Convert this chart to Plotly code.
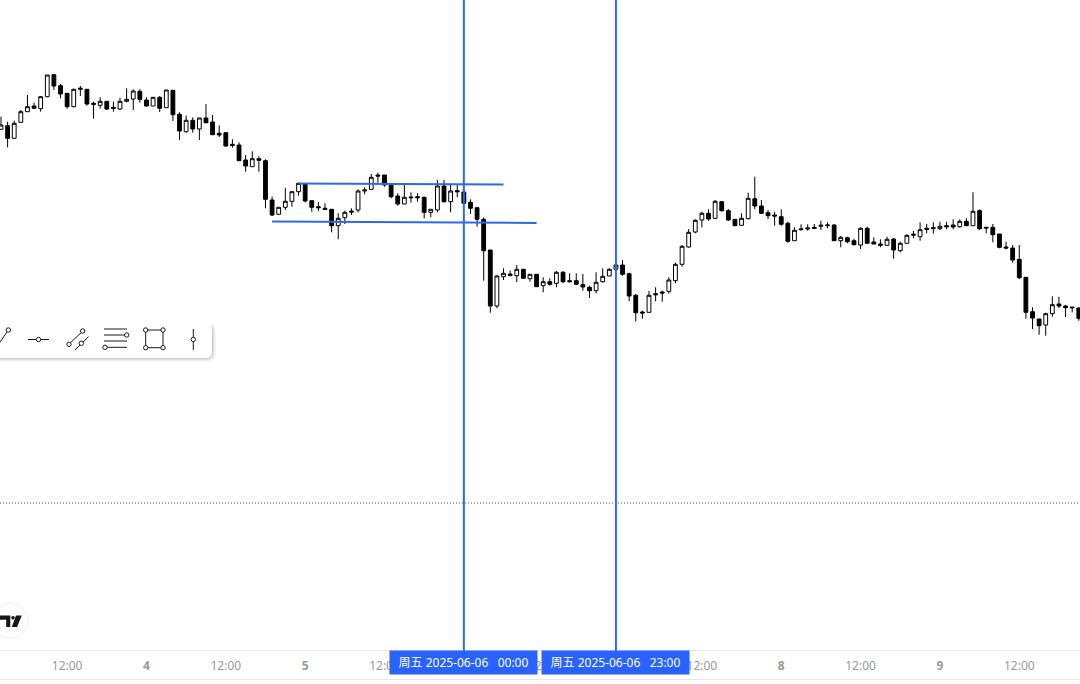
import pandas as pd
import plotly.graph_objects as go

# Price scale is arbitrary (no price axis is visible in the reference)
opens = [520.7,524.3,511.7,527.7,538.3,544,541.3,553.3,575.3,564.3,556.7,543.3,560.7,560.7,546.7,544.7,548.7,542.7,541,548.7,551,558.7,
 550,544,552.7,542.3,559.7,535.7,518.3,529.7,521,532,528,516.7,517.3,505.7,505,490,483.3,491.3,489.3,450,435.7,442.7,448.7,458.3,466,449.3,443.3,441.7,440.7,424.3,432.3,439,440,459,460.7,475,475,465,454,446,453,453.3,452.7,437.7,440,464,448.3,459.3,458,447.7,442.3,430.7,400,344,373.3,376,374.3,380.7,371.3,375.7,
 364.3,368.3,366.7,377.7,369.3,369.3,365.3,362.7,359.3,368.3,374,380.7,385,376.3,354.7,338,337.7,356.3,358,358.7,369.3,385.7,403,418,430,436.7,431.7,448.3,439.3,430.7,424.7,431.3,451.3,444,437.3,435,433.3,426.7,409.3,420.3,421,422.7,423.7,424.3,425,409.3,412.3,409.3,405,421.7,408,406,404.7,411,399.3,406.7,414.7,413.3,421.7,421.3,421.3,424.3,425,423.3,428.7,424.3,439.3,422.7,422.7,416,403,402,390.7,372.7,338.3,331,325,336.3,346,344,343,342]
highs = [533.3,528.3,529.3,540,555,547.3,554,575,575.3,566,557,561.3,564,561,548.3,552.7,549,548.3,552.3,561.7,560.7,560.7,
 552.7,553,554,560,559.7,537.7,534.3,532.7,532,546,535,524.7,517.3,510.7,507.7,495,498.7,493.7,490.7,453.3,442.7,462.3,458.3,467.3,466,450,448,446.7,440.7,436.7,439.3,441.7,460.7,462.7,476,477.3,475,466,456.7,466,457.7,456.7,453.3,440.7,470,470,465,465,460,450.7,442.3,432.7,400,375,381.7,379.3,385,380.7,375.7,375.7,
 372.7,371.7,379,379,376.7,376.7,376,364.3,377.7,381.7,381.7,386.7,390,377.3,356,339.3,359,362.7,359.3,372.7,387.3,405,421,430.7,438.3,440.7,450,449,441,430.7,436.7,457.3,473.3,450,440,438.3,440.7,428.3,422.7,425.7,425.7,426,429.3,427.7,425.7,414,413.3,411.3,422.7,423.3,412.7,410.7,413.3,412,408.3,415.7,419,427.7,426,427.7,428.3,428.3,430.7,430.7,431.7,457.7,440.7,422.7,426,416,408.3,405,405,373,342.7,331,337.3,353.7,353.3,345,343,342.7]
lows = [520.7,502.7,511.7,527.7,538.3,541.7,538.3,552.7,560,551.7,541.3,542.7,554,544.3,531.3,541.3,540,538.3,540,547.7,540,547.3,
 543.3,544,538,542.3,529,510,517.3,517.3,510,526.7,515.3,513,503.3,502.3,489,478.3,483.3,478.3,441.7,434,435.7,440,443.3,454.3,447.7,438.3,439,440.7,417.7,410.7,426,435,437.7,455.7,460.7,467.3,463.3,451.7,444.3,446,447.3,448.3,431.7,432.7,437.7,447.3,437.7,452.7,446.7,436,423.3,369.3,337.3,341.7,370,374.3,368,371.7,368.3,363.3,
 357.7,364.3,362.7,366.7,367.7,365.7,359.3,352,356.7,367.3,374,380.7,374.3,348.7,328.7,331.3,337.7,348.7,348.3,356.3,366.7,383.3,402.3,416.7,422.7,429.3,431.3,438.3,429.3,424,424.7,430.7,440.7,436,431,424.3,424.3,407.3,409.3,419.3,419.3,421.3,420,421.7,409.3,402.7,406.7,404.7,401,406.7,406,402.7,404.7,391.3,397.7,406.7,411.7,409.3,416.7,416.3,420,420.7,420.7,422.3,424.3,424.3,420,416.7,407.7,401.7,400.7,387.3,371,331.3,321,315.3,314.3,333.3,342,333,337.7,329.3]
closes = [525,511.7,526.7,538.3,543.3,541.7,553.3,575,564,556,543.3,560.7,561.7,546,545.7,548.7,541,541.7,548.7,550.7,559,550.7,
 544,552.7,541.7,560,535.3,519,529.7,521,532,527.3,515.3,515,504,504.7,489.3,484,491.3,489.7,450.7,435,442.7,448.7,458.3,466.7,449,442.7,442.3,440.7,424.3,431.7,437.7,438,459,460,472.7,474,465,453.3,446,452.7,452.3,452.3,437.7,440.7,464,448.3,459,458.3,446.7,441.7,430.7,399.3,344,374,376.7,374.3,380.7,371.7,375.7,363.3,
 368.3,365.7,377.7,368.3,368.3,365.7,363,359.3,367.7,373.7,380.7,385,375.7,354,337.3,337,354.7,355.3,357,370,385.7,403.7,417.7,429.7,436.7,431,448.7,439.3,430,424.3,431.7,451.7,444,436.7,434.3,434,425.7,408.7,419.7,421,422,421.7,424.7,425,409.3,412.7,408.3,405.3,421.7,406.7,406,404.7,410.7,400,406.7,414.7,415.7,420.3,420.7,422.3,423.7,423.3,423,428.7,424.3,438.7,421.3,422,415.3,402.7,402,390,372.3,337.7,332,324.3,336.3,345.3,344,342.3,342.3,331.7]

start_time = "2025-06-03 02:00"
tick_times = ["2025-06-03 12:00", "2025-06-04 00:00", "2025-06-04 12:00", "2025-06-05 00:00", "2025-06-05 12:00",
              "2025-06-06 00:00", "2025-06-06 12:00", "2025-06-07 00:00", "2025-06-07 12:00", "2025-06-08 00:00",
              "2025-06-08 12:00", "2025-06-09 00:00", "2025-06-09 12:00"]
tick_labels = ["12:00", "<b>4</b>", "12:00", "<b>5</b>", "12:00", "<b>6</b>", "12:00", "<b>7</b>", "12:00", "<b>8</b>",
               "12:00", "<b>9</b>", "12:00"]
marker_times = ["2025-06-06 00:00", "2025-06-06 23:00"]
marker_labels = ["周五 2025-06-06\u00a0\u00a0\u00a000:00", "周五 2025-06-06\u00a0\u00a0\u00a023:00"]
upper_line = (["2025-06-04 23:00", "2025-06-06 06:00"], [466.5, 465.5])
lower_line = (["2025-06-04 19:00", "2025-06-06 11:00"], [428.5, 427.0])
dotted_level = 147
times = pd.date_range(start_time, periods=len(opens), freq="h")

W, H_PLOT, H = 1080, 651, 684
BLUE = "#2962ff"
LINE = "#2f6ae6"
INK = "#1b1b1f"


def px(x):
    return x / W


def py(y):
    return 1 - y / H_PLOT


def seg(x0, y0, x1, y1, color=INK, width=1):
    return dict(type="line", xref="paper", yref="paper", x0=px(x0), y0=py(y0), x1=px(x1), y1=py(y1),
                line=dict(color=color, width=width))


def dot(x, y, r=2.2):
    return dict(type="circle", xref="paper", yref="paper", x0=px(x - r), x1=px(x + r), y0=py(y + r), y1=py(y - r),
                fillcolor="white", line=dict(color=INK, width=1))


def rrect(x0, y0, x1, y1, r):
    pts = [(x0 + r, y0), (x1 - r, y0), (x1, y0, x1, y0 + r), (x1, y1 - r), (x1, y1, x1 - r, y1), (x0 + r, y1),
           (x0, y1, x0, y1 - r), (x0, y0 + r), (x0, y0, x0 + r, y0)]
    p = ""
    for i, q in enumerate(pts):
        if len(q) == 2:
            p += f"{'M' if i == 0 else 'L'}{px(q[0])},{py(q[1])} "
        else:
            p += f"Q{px(q[0])},{py(q[1])} {px(q[2])},{py(q[3])} "
    return p + "Z"


def poly(points):
    return "M" + " L".join(f"{px(a)},{py(b)}" for a, b in points) + " Z"


fig = go.Figure(go.Candlestick(
    x=times, open=opens, high=highs, low=lows, close=closes,
    increasing=dict(line=dict(color="#000000", width=1), fillcolor="#ffffff"),
    decreasing=dict(line=dict(color="#000000", width=1), fillcolor="#000000"),
    whiskerwidth=0, hoverinfo="skip",
))

shapes = [
    dict(type="line", xref="paper", x0=0, x1=1, yref="y", y0=dotted_level, y1=dotted_level,
         line=dict(color="#555555", width=1, dash="1px,2px"), layer="below"),
    seg(0, 650.5, W, 650.5, "#e6e6e6"),
    seg(0, 679.5, W, 679.5, "#e6e6e6"),
]
# toolbar panel and soft shadow
for grow, alpha in [(4, 0.03), (3, 0.04), (2, 0.05), (1, 0.07)]:
    shapes.append(dict(type="path", xref="paper", yref="paper", path=rrect(-20, 322 + 1, 212 + grow, 358 + grow, 6 + grow),
                       fillcolor=f"rgba(0,0,0,{alpha})", line=dict(width=0)))
shapes.append(dict(type="path", xref="paper", yref="paper", path=rrect(-20, 322, 212, 358, 6),
                   fillcolor="white", line=dict(width=0)))
shapes += [
    seg(-2, 345, 7, 332), dot(8.3, 330),
    seg(28, 339.5, 49, 339.5), dot(38.5, 339.5),
    seg(69, 344, 83, 331), dot(69, 344.3), dot(82.7, 331),
    seg(75, 350, 88.5, 336.7), dot(81.3, 343.3),
    seg(104, 329, 127, 329), seg(104, 335, 125, 335), dot(126.7, 335), seg(104, 341, 127, 341),
    seg(107, 347.3, 127, 347.3), dot(105, 347.3),
    seg(145.7, 330, 163, 330), seg(163, 330, 163, 347.7), seg(163, 347.7, 145.7, 347.7), seg(145.7, 347.7, 145.7, 330),
    dot(145.7, 330), dot(163, 330), dot(163, 347.7), dot(145.7, 347.7),
    seg(193.3, 329, 193.3, 350), dot(193.3, 339.5),
]
# TradingView badge
shapes += [
    dict(type="circle", xref="paper", yref="paper", x0=px(-7), x1=px(28), y0=py(638.5), y1=py(603.5),
         fillcolor="white", line=dict(color="#eeeeee", width=1)),
    dict(type="path", xref="paper", yref="paper",
         path=poly([(0, 615.5), (10.3, 615.5), (10.3, 627), (6.2, 627), (6.2, 619.7), (0, 619.7)]),
         fillcolor="#131722", line=dict(width=0)),
    dict(type="circle", xref="paper", yref="paper", x0=px(11.2), x1=px(14.8), y0=py(619.6), y1=py(616),
         fillcolor="#131722", line=dict(width=0)),
    dict(type="path", xref="paper", yref="paper", path=poly([(16, 615.5), (21.8, 615.5), (17, 627), (11.8, 627)]),
         fillcolor="#131722", line=dict(width=0)),
]
# user drawings
for mt in marker_times:
    shapes.append(dict(type="line", xref="x", x0=mt, x1=mt, yref="paper", y0=0, y1=1, line=dict(color=LINE, width=2)))
for xs, ys in (upper_line, lower_line):
    shapes.append(dict(type="line", xref="x", x0=xs[0], x1=xs[1], yref="y", y0=ys[0], y1=ys[1],
                       line=dict(color=LINE, width=2)))

annotations = [
    dict(x=t, xref="x", y=0, yref="paper", yanchor="top", xanchor="center", yshift=1, text=lab, showarrow=False,
         width=145, height=21, borderpad=1, bgcolor=BLUE, align="center", valign="middle",
         font=dict(family="Noto Sans, Noto Sans CJK SC, sans-serif", size=12, color="white"))
    for t, lab in zip(marker_times, marker_labels)
]

fig.update_layout(
    width=W, height=H, margin=dict(l=0, r=0, t=0, b=H - H_PLOT, pad=0),
    paper_bgcolor="white", plot_bgcolor="white", showlegend=False, dragmode=False, boxgap=0.18,
    xaxis=dict(type="date", range=["2025-06-03 01:51", "2025-06-09 21:11"], rangeslider=dict(visible=False),
               tickmode="array", tickvals=tick_times, ticktext=tick_labels, showgrid=False, zeroline=False,
               showline=False, ticks="outside", ticklen=4, tickcolor="rgba(0,0,0,0)",
               tickfont=dict(family="Noto Sans, sans-serif", size=12, color="#9a9a9a")),
    yaxis=dict(range=[-1, 650], showgrid=False, zeroline=False, showticklabels=False, ticks="", showline=False, fixedrange=True),
    shapes=shapes, annotations=annotations,
)

fig.write_html("out.html", config=dict(displayModeBar=False),
               post_script="document.body.style.margin='0';document.body.style.overflow='hidden';")
